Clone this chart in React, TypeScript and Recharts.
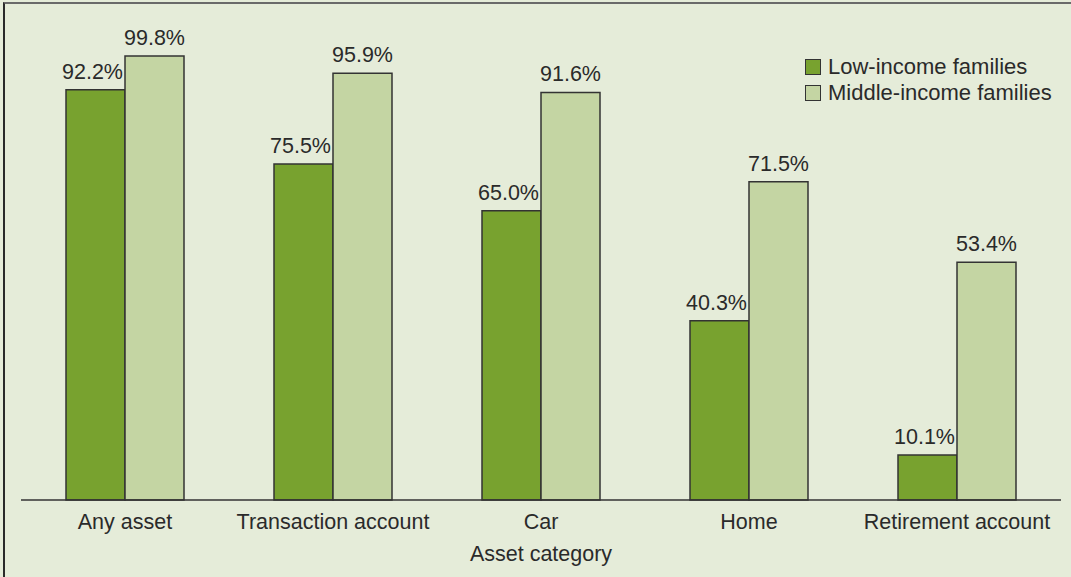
import { BarChart, Bar, XAxis, YAxis, LabelList, Label } from "recharts"

const categories = ["Any asset", "Transaction account", "Car", "Home", "Retirement account"]
const lowIncome = [92.2, 75.5, 65.0, 40.3, 10.1]
const middleIncome = [99.8, 95.9, 91.6, 71.5, 53.4]
const seriesNames = ["Low-income families", "Middle-income families"]

const data = categories.map((category, i) => ({
  category,
  low: lowIncome[i],
  middle: middleIncome[i],
}))

const BG = "#e5ecd9"
const DARK = "#78a22f"
const LIGHT = "#c4d5a3"
const INK = "#2a2a2a"
const FONT = "'Liberation Sans', Arial, Helvetica, sans-serif"
const FS = 21.5

const fmt = (v: any) => `${Number(v).toFixed(1)}%`

// legend sits on top of the plot, so keep it out of recharts' layout
function LegendBox() {
  const items = [
    { name: seriesNames[0], color: DARK },
    { name: seriesNames[1], color: LIGHT },
  ]
  return (
    <div style={{ position: "absolute", left: 805, top: 54, fontFamily: FONT, fontSize: 22, color: INK }}>
      {items.map((it) => (
        <div key={it.name} style={{ display: "flex", alignItems: "center", height: 26 }}>
          <span
            style={{
              display: "inline-block",
              width: 14,
              height: 14,
              background: it.color,
              border: "1.5px solid #333",
              marginRight: 7,
            }}
          />
          <span>{it.name}</span>
        </div>
      ))}
    </div>
  )
}

export default function App() {
  return (
    <div style={{ position: "relative", width: 1071, height: 577, background: BG, overflow: "hidden" }}>
      <style>{"body{margin:0}"}</style>
      <div
        style={{
          position: "absolute",
          left: 3,
          top: 2,
          right: -10,
          bottom: -10,
          borderTop: "2px solid #6a6a6a",
          borderLeft: "2px solid #2a2a2a",
        }}
      />
      <div style={{ position: "absolute", left: 0, top: 0 }}>
        <BarChart
          width={1071}
          height={577}
          data={data}
          margin={{ top: 55, right: 10, left: 21, bottom: 0 }}
          barCategoryGap={45}
          barGap={0}
        >
          <YAxis hide domain={[0, 100]} />
          <XAxis
            dataKey="category"
            height={77}
            tickLine={false}
            tickMargin={8}
            axisLine={{ stroke: "#333", strokeWidth: 1.5 }}
            tick={{ fill: INK, fontSize: FS, fontFamily: FONT }}
            interval={0}
          >
            <Label
              value="Asset category"
              position="insideBottom"
              offset={16}
              style={{ fill: INK, fontSize: FS, fontFamily: FONT }}
            />
          </XAxis>
          <Bar dataKey="low" name={seriesNames[0]} fill={DARK} stroke="#333" strokeWidth={1.5} isAnimationActive={false}>
            <LabelList dataKey="low" position="top" offset={11} dx={-3} formatter={fmt} style={{ fill: INK, fontSize: FS, fontFamily: FONT }} />
          </Bar>
          <Bar dataKey="middle" name={seriesNames[1]} fill={LIGHT} stroke="#333" strokeWidth={1.5} isAnimationActive={false}>
            <LabelList dataKey="middle" position="top" offset={11} formatter={fmt} style={{ fill: INK, fontSize: FS, fontFamily: FONT }} />
          </Bar>
        </BarChart>
      </div>
      <LegendBox />
    </div>
  )
}
